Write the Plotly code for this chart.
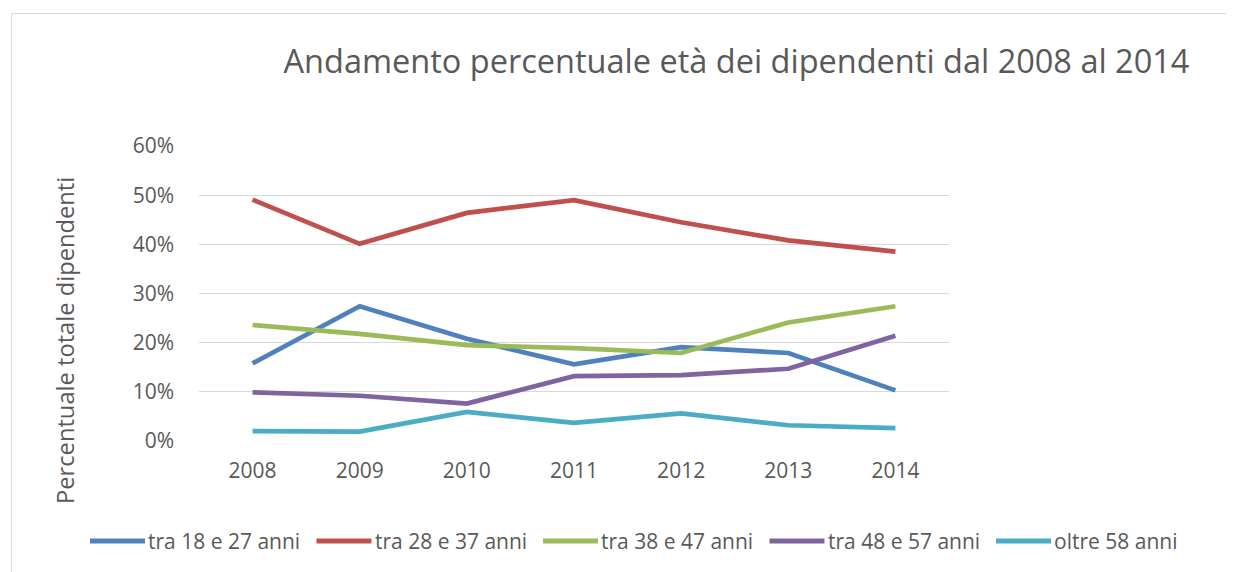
import plotly.graph_objects as go

years = ["2008", "2009", "2010", "2011", "2012", "2013", "2014"]
tra_18_27 = [15.8, 27.4, 20.8, 15.6, 19.1, 17.9, 10.3]
tra_28_37 = [49.1, 40.1, 46.4, 49.0, 44.5, 40.8, 38.5]
tra_38_47 = [23.6, 21.8, 19.5, 18.9, 17.9, 24.1, 27.4]
tra_48_57 = [9.9, 9.2, 7.6, 13.2, 13.4, 14.7, 21.4]
oltre_58 = [2.0, 1.9, 5.9, 3.7, 5.6, 3.2, 2.6]

series_names = ["tra 18 e 27 anni", "tra 28 e 37 anni", "tra 38 e 47 anni",
                "tra 48 e 57 anni", "oltre 58 anni"]
series_values = [tra_18_27, tra_28_37, tra_38_47, tra_48_57, oltre_58]
colors = ["#4F81BD", "#C0504D", "#9BBB59", "#8064A2", "#4BACC6"]

# page is drawn with the browser's default 8px body margin
OFF = 8
W, H = 1234 - OFF, 572 - OFF
L, R, T, B = 199 - OFF, 949 - OFF, 146 - OFF, 441 - OFF  # plot area (figure px)


def px_x(x_page):
    return (x_page - OFF - L) / (R - L)


def px_y(y_page):
    return (B - (y_page - OFF)) / (B - T)


FONT = "Open Sans"
GREY = "#595959"

fig = go.Figure()
for name, vals, col in zip(series_names, series_values, colors):
    fig.add_trace(go.Scatter(
        x=years, y=vals, name=name, mode="lines",
        line=dict(color=col, width=4.7),
        showlegend=False,
    ))

fig.update_layout(
    width=W, height=H,
    margin=dict(l=L, r=W - R, t=T, b=H - B, pad=0, autoexpand=False),
    paper_bgcolor="white", plot_bgcolor="white",
    font=dict(family=FONT, color=GREY, size=21),
    title=dict(
        text="Andamento percentuale età dei dipendenti dal 2008 al 2014",
        x=(736.5 - OFF) / W, xanchor="center", xref="container",
        y=1 - (62 - OFF) / H, yanchor="middle", yref="container",
        font=dict(family=FONT, size=32.5, color=GREY),
    ),
    xaxis=dict(
        type="category", range=[-0.5, 6.5],
        showgrid=False, showline=False, zeroline=False,
        ticks="", ticklabelstandoff=15,
        tickfont=dict(size=21, color=GREY),
    ),
    yaxis=dict(
        range=[0, 60], dtick=10, ticksuffix="%",
        showgrid=True, gridcolor="#D9D9D9", gridwidth=1,
        zeroline=False, showline=False, ticks="",
        ticklabelstandoff=24,
        tickfont=dict(size=21, color=GREY),
    ),
    showlegend=False,
)

# y-axis title
fig.add_annotation(
    text="Percentuale totale dipendenti", textangle=-90,
    xref="paper", yref="paper", x=px_x(65), y=px_y(341),
    xanchor="center", yanchor="middle", showarrow=False,
    font=dict(family=FONT, size=23.7, color=GREY),
)

# legend (below the plot)
leg_y = px_y(541)
leg_start = 90
leg_pitch = 226.5
key_len = 55
for i, (name, col) in enumerate(zip(series_names, colors)):
    x0 = leg_start + i * leg_pitch
    fig.add_shape(
        type="line", xref="paper", yref="paper",
        x0=px_x(x0), x1=px_x(x0 + key_len), y0=leg_y, y1=leg_y,
        line=dict(color=col, width=5),
    )
    fig.add_annotation(
        text=name, xref="paper", yref="paper",
        x=px_x(x0 + key_len + 1), y=leg_y,
        xanchor="left", yanchor="middle", showarrow=False,
        font=dict(family=FONT, size=21, color=GREY),
    )

# chart border
fig.add_shape(
    type="rect", xref="paper", yref="paper",
    x0=px_x(11.5), x1=px_x(1233.5), y0=px_y(600), y1=px_y(13.5),
    line=dict(color="#D9D9D9", width=1), fillcolor="rgba(0,0,0,0)",
    layer="below",
)

fig.write_html("out.html")
